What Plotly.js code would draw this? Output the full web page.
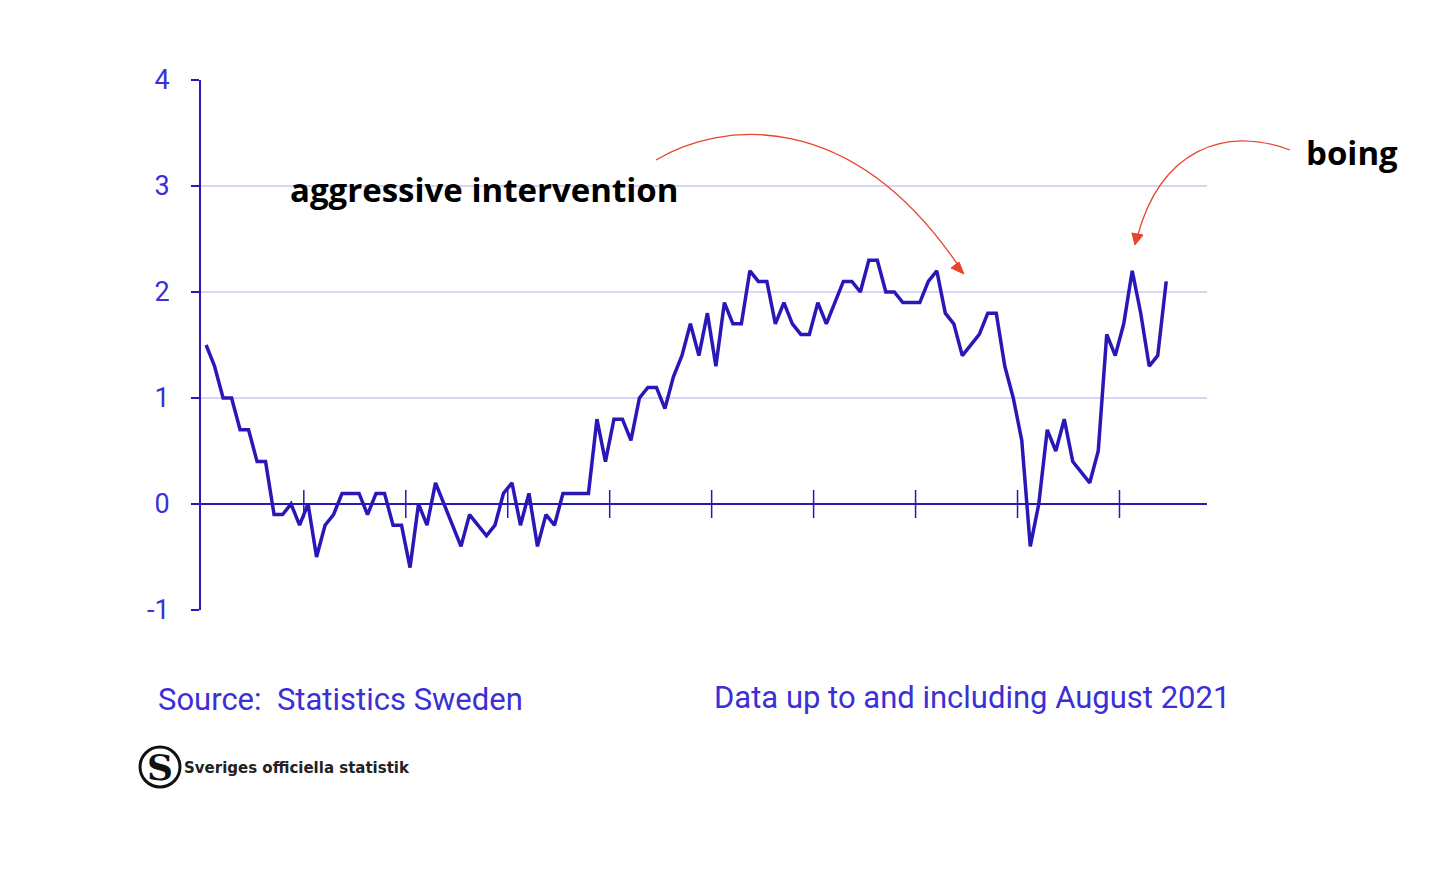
<!DOCTYPE html>
<html>
<head>
<meta charset="utf-8">
<script src="https://cdn.plot.ly/plotly-3.0.1.min.js"></script>
<style>body{margin:0;background:#fff}#chart{width:1434px;height:890px}</style>
</head>
<body>
<div id="chart"></div>
<script>
// monthly inflation (CPIF)
const values = [1.5, 1.3, 1.0, 1.0, 0.7, 0.7, 0.4, 0.4, -0.1, -0.1, 0.0, -0.2,
  0.0, -0.5, -0.2, -0.1, 0.1, 0.1, 0.1, -0.1, 0.1, 0.1, -0.2, -0.2,
  -0.6, 0.0, -0.2, 0.2, 0.0, -0.2, -0.4, -0.1, -0.2, -0.3, -0.2, 0.1,
  0.2, -0.2, 0.1, -0.4, -0.1, -0.2, 0.1, 0.1, 0.1, 0.1, 0.8, 0.4,
  0.8, 0.8, 0.6, 1.0, 1.1, 1.1, 0.9, 1.2, 1.4, 1.7, 1.4, 1.8,
  1.3, 1.9, 1.7, 1.7, 2.2, 2.1, 2.1, 1.7, 1.9, 1.7, 1.6, 1.6,
  1.9, 1.7, 1.9, 2.1, 2.1, 2.0, 2.3, 2.3, 2.0, 2.0, 1.9, 1.9,
  1.9, 2.1, 2.2, 1.8, 1.7, 1.4, 1.5, 1.6, 1.8, 1.8, 1.3, 1.0,
  0.6, -0.4, 0.0, 0.7, 0.5, 0.8, 0.4, 0.3, 0.2, 0.5, 1.6, 1.4,
  1.7, 2.2, 1.8, 1.3, 1.4, 2.1];
const months = values.map((v, i) => i);
const yearTicks = [11.5, 23.5, 35.5, 47.5, 59.5, 71.5, 83.5, 95.5, 107.5];
const yTicks = [-1, 0, 1, 2, 3, 4];

const blue = '#2a17b8';
const lightBlue = '#3b2fd6';

// pixel -> paper helpers for decorations
const L = 201, R = 1207, T = 80, B = 610;
const px = x => ((x - L) / (R - L)).toFixed(4);
const py = y => ((B - y) / (B - T)).toFixed(4);
function pathP(cmds) {
  return cmds.map(c => c[0] + c.slice(1).map((v, k) => k % 2 === 0 ? px(v) : py(v)).join(',')).join(' ');
}

const data = [
  {
    x: months, y: values, type: 'scatter', mode: 'lines',
    line: {color: blue, width: 3.5}, hoverinfo: 'skip'
  },
  {
    x: yearTicks, y: yearTicks.map(() => 0), type: 'scatter', mode: 'markers',
    marker: {symbol: 'line-ns', size: 20, line: {color: blue, width: 1.5}}, hoverinfo: 'skip'
  }
];

const red = '#e8442c';
const layout = {
  width: 1434, height: 890,
  margin: {l: L, r: 1434 - R, t: T, b: 890 - B},
  paper_bgcolor: '#fff', plot_bgcolor: '#fff',
  showlegend: false,
  font: {family: 'Roboto, sans-serif'},
  xaxis: {
    range: [-0.6, 117.8], showgrid: false, zeroline: false, showline: false,
    showticklabels: false, ticks: ''
  },
  yaxis: {
    range: [-1, 4], tickvals: yTicks, ticktext: yTicks.map(String),
    showgrid: true, gridcolor: '#d9d5f5', gridwidth: 1.5,
    zeroline: true, zerolinecolor: blue, zerolinewidth: 2,
    showline: true, linecolor: blue, linewidth: 2,
    ticks: 'outside', ticklen: 8, tickcolor: blue, tickwidth: 2,
    ticklabelstandoff: 16,
    tickfont: {size: 27, color: lightBlue, family: 'Roboto, sans-serif'}
  },
  shapes: [
    {type: 'path', xref: 'paper', yref: 'paper',
     path: pathP([['M', 656, 160], ['C', 720, 122, 850, 105, 960, 268]]),
     line: {color: red, width: 1.3}},
    {type: 'path', xref: 'paper', yref: 'paper',
     path: pathP([['M', 964, 274], ['L', 951, 268], ['L', 959, 262], ['Z']]),
     fillcolor: red, line: {color: red, width: 1}},
    {type: 'path', xref: 'paper', yref: 'paper',
     path: pathP([['M', 1290, 150], ['C', 1225, 125, 1160, 150, 1137, 238]]),
     line: {color: red, width: 1.3}},
    {type: 'path', xref: 'paper', yref: 'paper',
     path: pathP([['M', 1135, 245], ['L', 1132, 233], ['L', 1143, 235], ['Z']]),
     fillcolor: red, line: {color: red, width: 1}},
    {type: 'circle', xref: 'paper', yref: 'paper',
     x0: +px(140), x1: +px(180), y0: +py(787), y1: +py(747),
     line: {color: '#111', width: 3}}
  ],
  annotations: [
    {text: '<b>aggressive intervention</b>', xref: 'paper', yref: 'paper',
     x: +px(288), y: +py(189), xanchor: 'left', yanchor: 'middle', showarrow: false,
     font: {size: 33, color: '#000', family: 'Open Sans, sans-serif'}},
    {text: '<b>boing</b>', xref: 'paper', yref: 'paper',
     x: +px(1304), y: +py(153), xanchor: 'left', yanchor: 'middle', showarrow: false,
     font: {size: 33, color: '#000', family: 'Open Sans, sans-serif'}},
    {text: 'Source:  Statistics Sweden', xref: 'paper', yref: 'paper',
     x: +px(156), y: +py(700), xanchor: 'left', yanchor: 'middle', showarrow: false,
     font: {size: 31, color: lightBlue, family: 'Roboto, sans-serif'}},
    {text: 'Data up to and including August 2021', xref: 'paper', yref: 'paper',
     x: +px(712), y: +py(698), xanchor: 'left', yanchor: 'middle', showarrow: false,
     font: {size: 31, color: lightBlue, family: 'Roboto, sans-serif'}},
    {text: '<b>S</b>', xref: 'paper', yref: 'paper',
     x: +px(160), y: +py(767), xanchor: 'center', yanchor: 'middle', showarrow: false,
     font: {size: 36, color: '#111', family: 'DejaVu Serif, serif'}},
    {text: '<b>Sveriges officiella statistik</b>', xref: 'paper', yref: 'paper',
     x: +px(182), y: +py(768), xanchor: 'left', yanchor: 'middle', showarrow: false,
     font: {size: 15, color: '#222', family: 'DejaVu Sans, sans-serif'}}
  ]
};

Plotly.newPlot('chart', data, layout, {displayModeBar: false, staticPlot: true});
</script>
</body>
</html>
